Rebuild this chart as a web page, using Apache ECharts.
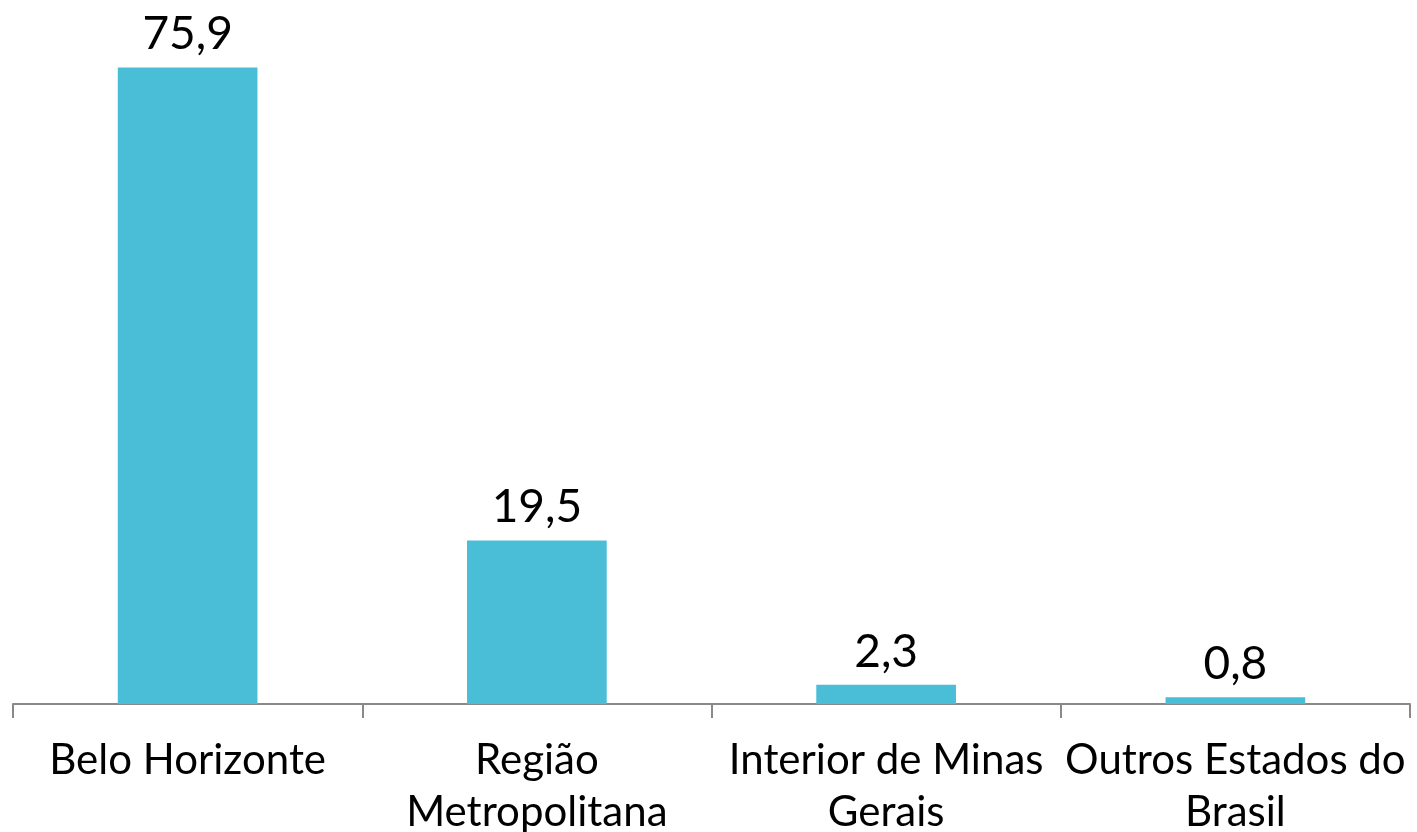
<!DOCTYPE html>
<html>
<head>
<meta charset="utf-8">
<script src="https://cdn.jsdelivr.net/npm/echarts@6/dist/echarts.min.js"></script>
<style>
  html, body { margin: 0; padding: 0; background: #fff; }
  #chart { width: 1417px; height: 832px; }
</style>
</head>
<body>
<div id="chart"></div>
<script>
// categorias (eixo x)
const categories = ['Belo Horizonte', 'Região\nMetropolitana', 'Interior de Minas\nGerais', 'Outros Estados do\nBrasil']
// percentuais
const values = [75.9, 19.5, 2.3, 0.8]

const chart = echarts.init(document.getElementById('chart'))

chart.setOption({
  backgroundColor: '#ffffff',
  animation: false,
  grid: {
    top: 33,
    left: 13,
    right: 7,
    bottom: 128,
    outerBoundsMode: 'none'
  },
  xAxis: [{
    type: 'category',
    data: categories,
    axisLine: {
      lineStyle: { color: '#898989', width: 2 }
    },
    axisTick: {
      show: true,
      alignWithLabel: false,
      length: 14,
      lineStyle: { color: '#898989', width: 2 }
    },
    axisLabel: {
      interval: 0,
      margin: 30,
      fontFamily: 'Lato',
      fontSize: 42,
      lineHeight: 52,
      color: '#000000'
    }
  }],
  yAxis: [{
    type: 'value',
    min: 0,
    max: 80,
    show: false,
    splitLine: { show: false }
  }],
  series: [{
    type: 'bar',
    data: values,
    barWidth: '40%',
    itemStyle: { color: '#4bbed7' },
    label: {
      show: true,
      position: 'top',
      distance: 10,
      fontFamily: 'Lato',
      fontSize: 46,
      color: '#000000',
      formatter: p => String(p.value).replace('.', ',')
    }
  }]
})
</script>
</body>
</html>
